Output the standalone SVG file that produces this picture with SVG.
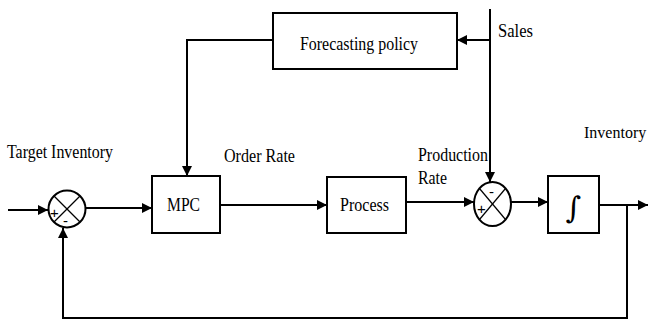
<svg xmlns="http://www.w3.org/2000/svg" width="649" height="321" viewBox="0 0 649 321">
  <style>
    .box { fill: #fff; stroke: #000; stroke-width: 2; }
    .sum { fill: #fff; stroke: #000; stroke-width: 2; }
    .cross { stroke: #000; stroke-width: 1.2; fill: none; }
    .wire { stroke: #000; stroke-width: 2; fill: none; }
    .lbl { font-family: "Liberation Serif", "Times New Roman", serif; font-size: 19px; fill: #000; }
    .sign { font-family: "Liberation Sans", Arial, sans-serif; font-size: 15px; fill: #000; }
  </style>
  <defs>
    <marker id="arrow" viewBox="0 0 10 10" refX="10" refY="5" markerWidth="11" markerHeight="10" markerUnits="userSpaceOnUse" orient="auto">
      <path d="M0,0 L10,5 L0,10 Z" fill="#000"/>
    </marker>
  </defs>

  <rect width="649" height="321" fill="#fff"/>

  <!-- connectors -->
  <g id="connectors">
    <!-- reference input -->
    <line class="wire" x1="8" y1="210" x2="48" y2="210" marker-end="url(#arrow)"/>
    <!-- error to MPC -->
    <line class="wire" x1="86" y1="208" x2="152" y2="208" marker-end="url(#arrow)"/>
    <!-- MPC to Process -->
    <line class="wire" x1="220" y1="205" x2="327" y2="205" marker-end="url(#arrow)"/>
    <!-- Process to second summing junction -->
    <line class="wire" x1="406" y1="202" x2="474" y2="202" marker-end="url(#arrow)"/>
    <!-- junction to integrator -->
    <line class="wire" x1="511" y1="202" x2="548" y2="202" marker-end="url(#arrow)"/>
    <!-- integrator output -->
    <line class="wire" x1="599" y1="205" x2="648" y2="205" marker-end="url(#arrow)"/>
    <!-- sales disturbance -->
    <line class="wire" x1="490" y1="9" x2="490" y2="182" marker-end="url(#arrow)"/>
    <line class="wire" x1="490" y1="40" x2="457" y2="40" marker-end="url(#arrow)"/>
    <!-- forecast to MPC -->
    <polyline class="wire" points="273,40 187,40 187,176" marker-end="url(#arrow)"/>
    <!-- inventory feedback -->
    <polyline class="wire" points="627,205 627,318 63,318 63,228" marker-end="url(#arrow)"/>
  </g>

  <!-- first summing junction -->
  <g id="sum1">
    <circle class="sum" cx="67" cy="209" r="18.5"/>
    <line class="cross" x1="54" y1="196" x2="80" y2="222"/>
    <line class="cross" x1="80" y1="196" x2="54" y2="222"/>
    <text class="sign" x="50" y="218">+</text>
    <text class="sign" x="63" y="226">-</text>
  </g>

  <!-- MPC controller -->
  <g id="mpc">
    <rect class="box" x="152" y="176" width="68" height="57"/>
    <text class="lbl" x="167" y="211" textLength="33" lengthAdjust="spacingAndGlyphs">MPC</text>
  </g>

  <!-- Process -->
  <g id="process">
    <rect class="box" x="327" y="177" width="79" height="56"/>
    <text class="lbl" x="340" y="211" textLength="49" lengthAdjust="spacingAndGlyphs">Process</text>
  </g>

  <!-- second summing junction -->
  <g id="sum2">
    <ellipse class="sum" cx="492.5" cy="204" rx="18.5" ry="22"/>
    <line class="cross" x1="479.5" y1="188.5" x2="505.5" y2="219.5"/>
    <line class="cross" x1="505.5" y1="188.5" x2="479.5" y2="219.5"/>
    <text class="sign" x="489" y="197">-</text>
    <text class="sign" x="477" y="214">+</text>
  </g>

  <!-- integrator -->
  <g id="integrator">
    <rect class="box" x="548" y="176" width="51" height="57"/>
    <text x="573.5" y="218" text-anchor="middle" style="font-family:'DejaVu Serif', serif; font-size:30px">∫</text>
  </g>

  <!-- forecasting policy -->
  <g id="forecasting">
    <rect class="box" x="273" y="13" width="184" height="56"/>
    <text class="lbl" x="300" y="50" textLength="118" lengthAdjust="spacingAndGlyphs">Forecasting policy</text>
  </g>

  <!-- signal labels -->
  <g id="labels">
    <text class="lbl" x="7" y="158" textLength="106" lengthAdjust="spacingAndGlyphs">Target Inventory</text>
    <text class="lbl" x="224" y="162" textLength="71" lengthAdjust="spacingAndGlyphs">Order Rate</text>
    <text class="lbl" x="418" y="161" textLength="70" lengthAdjust="spacingAndGlyphs">Production</text>
    <text class="lbl" x="418" y="184" textLength="29" lengthAdjust="spacingAndGlyphs">Rate</text>
    <text class="lbl" x="498" y="37" textLength="35" lengthAdjust="spacingAndGlyphs">Sales</text>
    <text class="lbl" x="584" y="138" style="font-size:16px">Inventory</text>
  </g>
</svg>
